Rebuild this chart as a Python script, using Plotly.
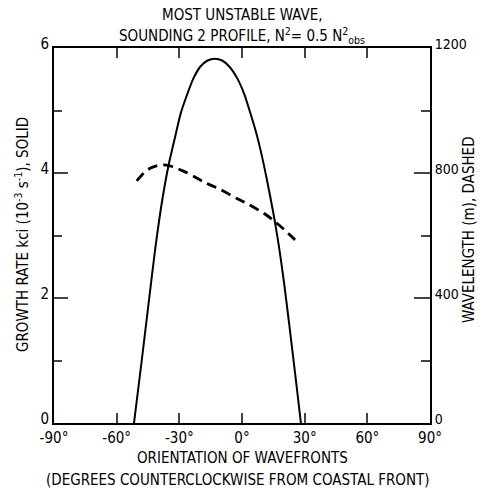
import plotly.graph_objects as go

# Growth rate (solid), 10^-3 s^-1
solid_x = [-51.7, -48.0, -44.4, -41.6, -38.5, -35.3, -32.0, -29.2, -26.0, -23.3, -20.0, -16.5, -13.0, -9.5, -6.0, -2.2,
           1.0, 3.8, 6.5, 9.0, 12.0, 15.0, 17.1, 19.5, 21.5, 23.5, 26.0, 28.2]
solid_y = [0.0, 1.00, 2.00, 2.77, 3.50, 4.10, 4.58, 4.97, 5.28, 5.51, 5.70, 5.80, 5.83, 5.80, 5.70, 5.51,
           5.27, 4.98, 4.68, 4.35, 3.88, 3.36, 2.95, 2.40, 1.88, 1.33, 0.63, 0.0]

# Wavelength (dashed), m
dash_x = [-50.4, -47.0, -44.0, -40.5, -37.5, -33.0, -28.0, -23.0, -18.5, -10.0, -2.6, 3.0, 8.0, 12.0, 15.8, 20.0, 25.4]
dash_y = [775, 800, 815, 824, 826, 820, 806, 789, 772, 746, 719, 700, 681, 664, 644, 620, 586]

x_ticks = [-90, -60, -30, 0, 30, 60, 90]
x_ticktext = ["-90°", "-60°", "-30°", "0°", "30°", "60°", "90°"]
y1_ticks = [0, 2, 4, 6]
y2_ticks = [0, 400, 800, 1200]

FONT = "DejaVu Sans Condensed, Liberation Sans Narrow, Arial"

fig = go.Figure()
fig.add_trace(go.Scatter(x=solid_x, y=solid_y, mode="lines", line=dict(color="black", width=2, shape="spline", smoothing=0.8),
                         showlegend=False, yaxis="y"))
fig.add_trace(go.Scatter(x=dash_x, y=dash_y, mode="lines", line=dict(color="black", width=2.8, dash="10px,6px", shape="spline", smoothing=0.6),
                         showlegend=False, yaxis="y2"))

fig.update_layout(
    width=485, height=489,
    margin=dict(l=54, r=55, t=48, b=66, autoexpand=False),
    paper_bgcolor="white", plot_bgcolor="white",
    font=dict(family=FONT, size=14, color="black"),
    xaxis=dict(range=[-90, 90], tickvals=x_ticks, ticktext=x_ticktext, ticks="inside", ticklen=10, tickwidth=2,
               showline=True, linecolor="black", linewidth=2, mirror="ticks", showgrid=False, zeroline=False,
               tickfont=dict(size=15), automargin=False),
    yaxis=dict(range=[0, 6], tickvals=y1_ticks, ticks="inside", ticklen=14, tickwidth=2,
               minor=dict(ticks="inside", ticklen=8, tickwidth=2, dtick=1, tick0=0, showgrid=False),
               showline=True, linecolor="black", linewidth=2, showgrid=False, zeroline=False,
               tickfont=dict(size=15), ticklabelshift=-4, automargin=False),
    yaxis2=dict(range=[0, 1200], tickvals=y2_ticks, overlaying="y", side="right", ticks="inside", ticklen=16, tickwidth=2,
                minor=dict(ticks="inside", ticklen=9, tickwidth=2, dtick=200, tick0=0, showgrid=False),
                showline=True, linecolor="black", linewidth=2, showgrid=False, zeroline=False,
                tickfont=dict(size=14), ticklabelshift=-4, automargin=False),
    annotations=[
        dict(text="MOST UNSTABLE WAVE,", x=242, y=15, showarrow=False, font=dict(size=15)),
        dict(text="SOUNDING 2 PROFILE, N<sup>2</sup>= 0.5 N<sup>2</sup><sub>obs</sub>", x=242, y=36,
             showarrow=False, font=dict(size=15)),
        dict(text="ORIENTATION OF WAVEFRONTS", x=242, y=458, showarrow=False, font=dict(size=15)),
        dict(text="(DEGREES COUNTERCLOCKWISE FROM COASTAL FRONT)", x=238, y=480, showarrow=False, font=dict(size=15)),
        dict(text="GROWTH RATE kci (10<sup>-3</sup> s<sup>-1</sup>), SOLID", x=22, y=235, showarrow=False,
             textangle=-90, font=dict(size=15)),
        dict(text="WAVELENGTH (m), DASHED", x=469, y=230, showarrow=False,
             textangle=-90, font=dict(size=15)),
    ],
)

# convert pixel positions of annotations to paper coords
pl, pr, pt, pb = 54, 430, 48, 423
for a in fig.layout.annotations:
    px, py = a.x, a.y
    a.xref = "paper"
    a.yref = "paper"
    a.x = (px - pl) / (pr - pl)
    a.y = (pb - py) / (pb - pt)
    a.xanchor = "center"
    a.yanchor = "middle"

fig.write_html("out.html")
